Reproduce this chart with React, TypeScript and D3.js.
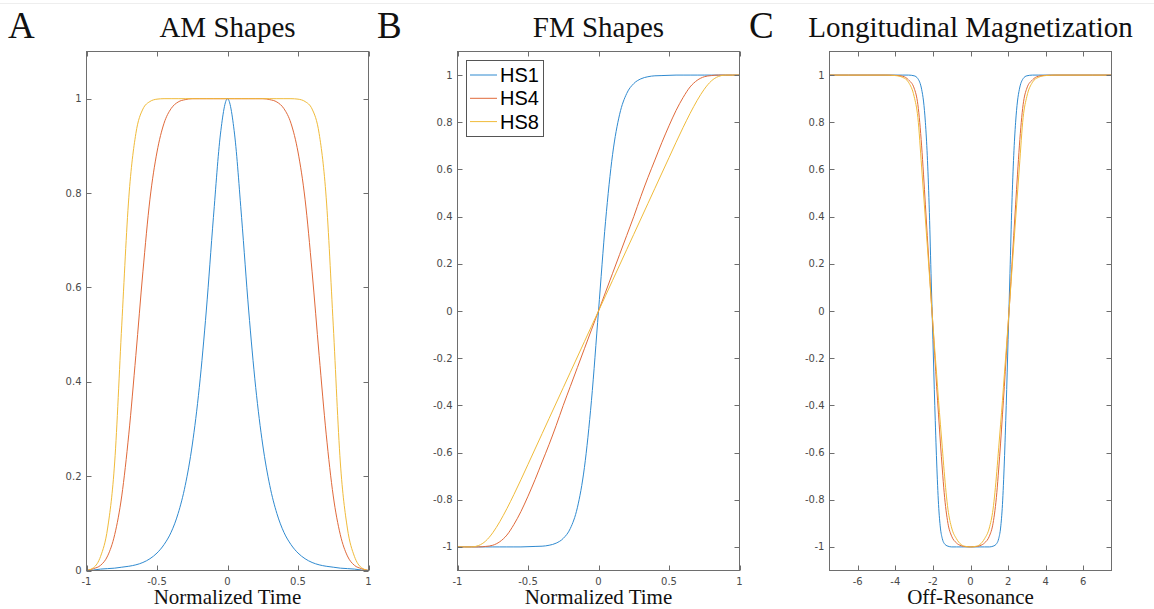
import React from 'react';
import * as d3 from 'd3';

// ---------- data ----------
const timeGrid = [-1, -0.95, -0.9, -0.85, -0.8, -0.75, -0.7, -0.65, -0.6, -0.55, -0.5, -0.45, -0.4, -0.35, -0.3, -0.25, -0.2, -0.15, -0.1, -0.05, 0,
  0.05, 0.1, 0.15, 0.2, 0.25, 0.3, 0.35, 0.4, 0.45, 0.5, 0.55, 0.6, 0.65, 0.7, 0.75, 0.8, 0.85, 0.9, 0.95, 1];

const amHS1 = [0, 0.001, 0.003, 0.004, 0.005, 0.007, 0.009, 0.012, 0.017, 0.025, 0.037, 0.055, 0.081, 0.121, 0.18, 0.266, 0.388, 0.552, 0.748, 0.925, 1,
  0.925, 0.748, 0.552, 0.388, 0.266, 0.18, 0.121, 0.081, 0.055, 0.037, 0.025, 0.017, 0.012, 0.009, 0.007, 0.005, 0.004, 0.003, 0.001, 0];
const amHS4 = [0, 0.004, 0.011, 0.031, 0.076, 0.158, 0.289, 0.456, 0.633, 0.787, 0.887, 0.948, 0.979, 0.993, 0.998, 1, 1, 1, 1, 1, 1,
  1, 1, 1, 1, 1, 0.998, 0.993, 0.979, 0.948, 0.887, 0.787, 0.633, 0.456, 0.289, 0.158, 0.076, 0.031, 0.011, 0.004, 0];
const amHS8 = [0, 0.006, 0.03, 0.09, 0.23, 0.52, 0.79, 0.926, 0.978, 0.994, 0.999, 1, 1, 1, 1, 1, 1, 1, 1, 1, 1,
  1, 1, 1, 1, 1, 1, 1, 1, 1, 0.999, 0.994, 0.978, 0.926, 0.79, 0.52, 0.23, 0.09, 0.03, 0.006, 0];

const fmHS1 = [-1, -1, -1, -1, -1, -1, -1, -1, -1, -1, -0.999, -0.998, -0.997, -0.993, -0.984, -0.964, -0.922, -0.834, -0.664, -0.38, 0,
  0.38, 0.664, 0.834, 0.922, 0.964, 0.984, 0.993, 0.997, 0.998, 0.999, 1, 1, 1, 1, 1, 1, 1, 1, 1, 1];
const fmHS4 = [-1, -1, -1, -1, -0.998, -0.993, -0.978, -0.95, -0.905, -0.85, -0.785, -0.715, -0.64, -0.565, -0.485, -0.4, -0.32, -0.24, -0.16, -0.08, 0,
  0.08, 0.16, 0.24, 0.32, 0.4, 0.485, 0.565, 0.64, 0.715, 0.785, 0.85, 0.905, 0.95, 0.978, 0.993, 0.998, 1, 1, 1, 1];
const fmHS8 = [-1, -1, -1, -0.994, -0.975, -0.94, -0.893, -0.838, -0.778, -0.715, -0.65, -0.585, -0.52, -0.455, -0.39, -0.325, -0.26, -0.195, -0.13, -0.065, 0,
  0.065, 0.13, 0.195, 0.26, 0.325, 0.39, 0.455, 0.52, 0.585, 0.65, 0.715, 0.778, 0.838, 0.893, 0.94, 0.975, 0.994, 1, 1, 1];

const offResonance = [-7.5, -6.5, -5.5, -4.5, -4, -3.6, -3.3, -3, -2.8, -2.6, -2.5, -2.4, -2.3, -2.2, -2.1, -2, -1.9, -1.8, -1.7, -1.6, -1.5, -1.4, -1.2, -1, -0.75, -0.5, -0.25, 0,
  0.25, 0.5, 0.75, 1, 1.2, 1.4, 1.5, 1.6, 1.7, 1.8, 1.9, 2, 2.1, 2.2, 2.3, 2.4, 2.5, 2.6, 2.8, 3, 3.3, 3.6, 4, 4.5, 5.5, 6.5, 7.5];

const mzHS1 = [1, 1, 1, 1, 1, 1, 1, 0.997, 0.985, 0.94, 0.89, 0.8, 0.66, 0.45, 0.16, -0.12, -0.4, -0.64, -0.82, -0.92, -0.965, -0.985, -0.997, -1, -1, -1, -1, -1,
  -1, -1, -1, -1, -0.997, -0.985, -0.965, -0.92, -0.82, -0.64, -0.4, -0.12, 0.16, 0.45, 0.66, 0.8, 0.89, 0.94, 0.985, 0.997, 1, 1, 1, 1, 1, 1, 1];
const mzHS4 = [1, 1, 1, 1, 0.999, 0.995, 0.98, 0.945, 0.875, 0.7, 0.58, 0.45, 0.32, 0.19, 0.06, -0.06, -0.19, -0.32, -0.44, -0.56, -0.67, -0.77, -0.9, -0.955, -0.983, -0.995, -0.999, -1,
  -0.999, -0.995, -0.983, -0.955, -0.9, -0.77, -0.67, -0.56, -0.44, -0.32, -0.19, -0.06, 0.06, 0.19, 0.32, 0.45, 0.58, 0.7, 0.875, 0.945, 0.98, 0.995, 0.999, 1, 1, 1, 1];
const mzHS8 = [1, 1, 1, 1, 0.998, 0.99, 0.97, 0.91, 0.82, 0.61, 0.5, 0.39, 0.28, 0.17, 0.055, -0.055, -0.165, -0.27, -0.38, -0.48, -0.58, -0.68, -0.84, -0.92, -0.965, -0.99, -0.998, -1,
  -0.998, -0.99, -0.965, -0.92, -0.84, -0.68, -0.58, -0.48, -0.38, -0.27, -0.165, -0.055, 0.055, 0.17, 0.28, 0.39, 0.5, 0.61, 0.82, 0.91, 0.97, 0.99, 0.998, 1, 1, 1, 1];

const seriesNames = ['HS1', 'HS4', 'HS8'];
const timeTicks = [-1, -0.5, 0, 0.5, 1];
const offTicks = [-6, -4, -2, 0, 2, 4, 6];
const amTicks = [0, 0.2, 0.4, 0.6, 0.8, 1];
const symTicks = [-1, -0.8, -0.6, -0.4, -0.2, 0, 0.2, 0.4, 0.6, 0.8, 1];

// ---------- styling ----------
const COLORS = ['#2f8ad0', '#e0693a', '#f0bb3a'];
const AXIS = '#6e6e6e';
const TICKTXT = '#4a4a4a';
const SERIF = '"Liberation Serif", "Times New Roman", serif';
const SANS = '"DejaVu Sans", sans-serif';
const TOP = 51.5;
const BOTTOM = 570.5;

type PanelCfg = {
  left: number; right: number; letter: string; letterX: number; title: string; xLabel: string;
  xDomain: [number, number]; yDomain: [number, number]; xTicks: number[]; yTicks: number[];
  xs: number[]; ys: number[][]; legend?: boolean;
};

const panels: PanelCfg[] = [
  { left: 86.5, right: 368.5, letter: 'A', letterX: 8, title: 'AM Shapes', xLabel: 'Normalized Time',
    xDomain: [-1, 1], yDomain: [0, 1.1], xTicks: timeTicks, yTicks: amTicks, xs: timeGrid, ys: [amHS1, amHS4, amHS8] },
  { left: 457.5, right: 739.5, letter: 'B', letterX: 377, title: 'FM Shapes', xLabel: 'Normalized Time',
    xDomain: [-1, 1], yDomain: [-1.1, 1.1], xTicks: timeTicks, yTicks: symTicks, xs: timeGrid, ys: [fmHS1, fmHS4, fmHS8], legend: true },
  { left: 829.5, right: 1111.5, letter: 'C', letterX: 749, title: 'Longitudinal Magnetization', xLabel: 'Off-Resonance',
    xDomain: [-7.5, 7.5], yDomain: [-1.1, 1.1], xTicks: offTicks, yTicks: symTicks, xs: offResonance, ys: [mzHS1, mzHS4, mzHS8] },
];

const fmt = (v: number) => String(+v.toFixed(2));

function Panel({ cfg }: { cfg: PanelCfg }) {
  const x = d3.scaleLinear().domain(cfg.xDomain).range([cfg.left, cfg.right]);
  const y = d3.scaleLinear().domain(cfg.yDomain).range([BOTTOM, TOP]);
  const cx = (cfg.left + cfg.right) / 2;
  const tl = 5;
  return (
    <g>
      <text x={cfg.letterX} y={38} fontFamily={SERIF} fontSize={37} fill="#111">{cfg.letter}</text>
      <text x={cx} y={37} textAnchor="middle" fontFamily={SERIF} fontSize={29} fill="#111">{cfg.title}</text>
      {cfg.ys.map((vals, si) => {
        const line = d3.line<number>()
          .x((_, i) => x(cfg.xs[i]))
          .y(d => y(d))
          .curve(d3.curveMonotoneX);
        return <path key={si} d={line(vals) || ''} fill="none" stroke={COLORS[si]} strokeWidth={1} />;
      })}
      <rect x={cfg.left} y={TOP} width={cfg.right - cfg.left} height={BOTTOM - TOP} fill="none" stroke={AXIS} strokeWidth={1} />
      {cfg.xTicks.map(t => {
        const px = Math.round(x(t)) + 0.5;
        return (
          <g key={'x' + t}>
            <line x1={px} x2={px} y1={BOTTOM} y2={BOTTOM - tl} stroke={AXIS} />
            <line x1={px} x2={px} y1={TOP} y2={TOP + tl} stroke={AXIS} />
            <text x={x(t)} y={585} textAnchor="middle" fontFamily={SANS} fontSize={10} fill={TICKTXT}>{fmt(t)}</text>
          </g>
        );
      })}
      {cfg.yTicks.map(t => {
        const py = Math.round(y(t)) + 0.5;
        return (
          <g key={'y' + t}>
            <line x1={cfg.left} x2={cfg.left + tl} y1={py} y2={py} stroke={AXIS} />
            <line x1={cfg.right} x2={cfg.right - tl} y1={py} y2={py} stroke={AXIS} />
            <text x={cfg.left - 5} y={y(t) + 3.5} textAnchor="end" fontFamily={SANS} fontSize={10} fill={TICKTXT}>{fmt(t)}</text>
          </g>
        );
      })}
      <text x={cx} y={604} textAnchor="middle" fontFamily={SERIF} fontSize={21} fill="#111">{cfg.xLabel}</text>
      {cfg.legend && (
        <g>
          <rect x={466.5} y={60.5} width={77} height={76} fill="#fff" stroke="#555" strokeWidth={1} />
          {seriesNames.map((n, i) => {
            const ly = 75 + i * 23.3;
            return (
              <g key={n}>
                <line x1={470} x2={497} y1={ly} y2={ly} stroke={COLORS[i]} strokeWidth={1} />
                <text x={500} y={ly + 7} fontFamily='"Liberation Sans", Arial, sans-serif' fontSize={20} fill="#000">{n}</text>
              </g>
            );
          })}
        </g>
      )}
    </g>
  );
}

export default function App() {
  return (
    <svg width={1154} height={609} style={{ position: 'absolute', left: 0, top: 0, background: '#fff' }}>
      <rect x={0} y={0} width={1154} height={609} fill="#fff" />
      <line x1={0} x2={1154} y1={3.5} y2={3.5} stroke="#eeeeee" strokeWidth={1} />
      {panels.map((p, i) => <Panel key={i} cfg={p} />)}
    </svg>
  );
}
